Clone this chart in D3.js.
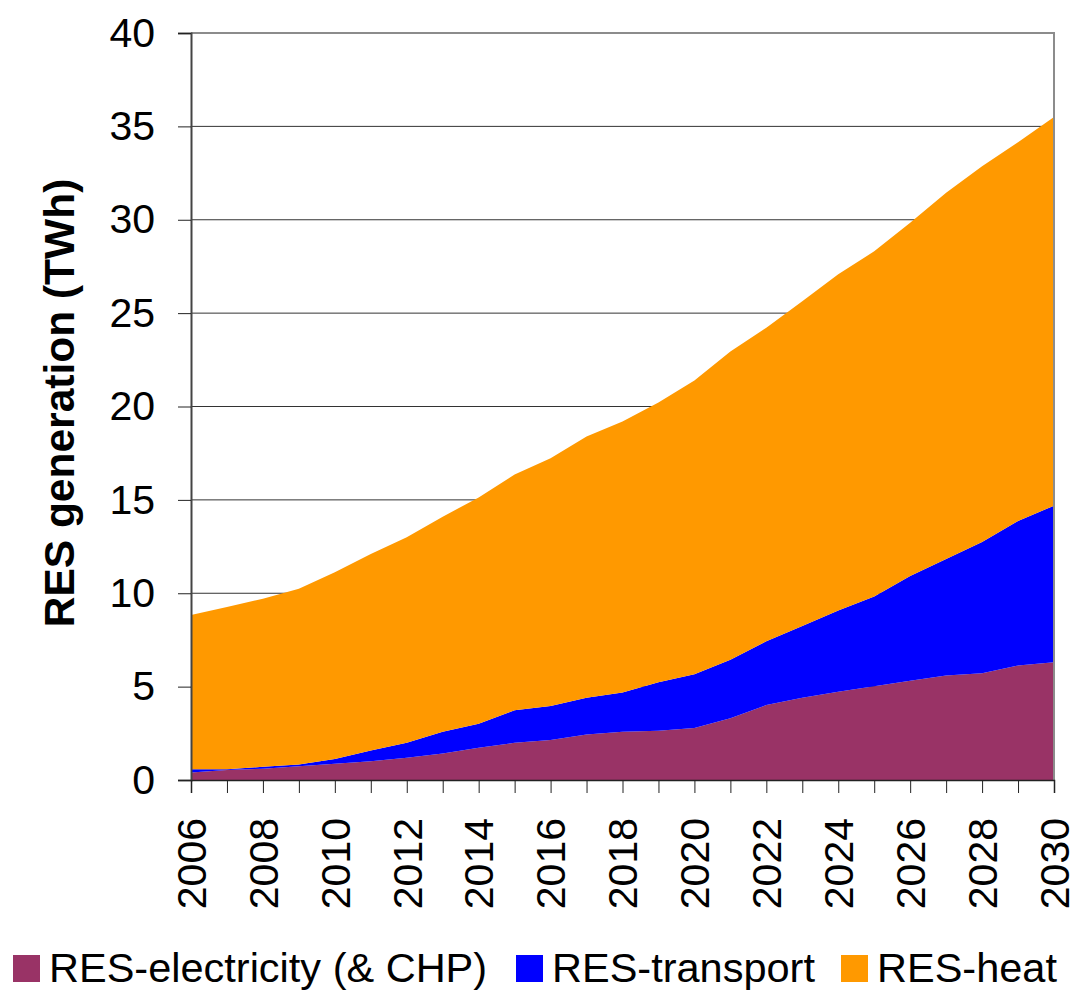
<!DOCTYPE html>
<html>
<head>
<meta charset="utf-8">
<script src="https://cdn.jsdelivr.net/npm/d3@7"></script>
<style>
  body { margin: 0; background: #fff; }
  svg { font-family: "Liberation Sans", Arial, sans-serif; }
</style>
</head>
<body>
<svg id="chart"></svg>
<script>
// values (TWh per year)
const years = d3.range(2006, 2031)
const electricity = [0.40, 0.54, 0.60, 0.74, 0.87, 1.01, 1.19, 1.42, 1.73, 1.99, 2.14, 2.44, 2.58, 2.64, 2.78, 3.30, 4.01, 4.41, 4.72, 5.02, 5.31, 5.59, 5.71, 6.13, 6.30]
const transport   = [0.17, 0.03, 0.11, 0.09, 0.26, 0.57, 0.80, 1.16, 1.28, 1.74, 1.82, 1.97, 2.10, 2.60, 2.88, 3.14, 3.42, 3.84, 4.36, 4.81, 5.61, 6.25, 7.03, 7.74, 8.39]
const heat        = [8.27, 8.70, 9.00, 9.41, 10.00, 10.52, 11.01, 11.52, 12.12, 12.63, 13.27, 13.99, 14.52, 14.97, 15.73, 16.51, 16.79, 17.39, 18.00, 18.48, 18.92, 19.60, 20.12, 20.28, 20.81]
const seriesNames = ['RES-electricity (& CHP)', 'RES-transport', 'RES-heat']
const yTicks = [0, 5, 10, 15, 20, 25, 30, 35, 40]

const width = 1074, height = 990
const margin = {top: 33, right: 20, bottom: 210, left: 191}

const svg = d3.select('#chart')
              .attr('width', width)
              .attr('height', height)

const x = d3.scaleLinear()
            .domain([2006, 2030])
            .range([margin.left, width - margin.right])
const y = d3.scaleLinear()
            .domain([0, 40])
            .range([height - margin.bottom, margin.top])

const color = d3.scaleOrdinal()
                .domain(seriesNames)
                .range(['#993366', '#0000ff', '#ff9900'])

const rows = years.map((yr, i) => ({
  year: yr,
  [seriesNames[0]]: electricity[i],
  [seriesNames[1]]: transport[i],
  [seriesNames[2]]: heat[i]
}))
const stacked = d3.stack().keys(seriesNames)(rows)

// grid lines
svg.append('g')
   .selectAll('line')
   .data(yTicks.slice(1))
   .join('line')
   .attr('x1', x(2006))
   .attr('x2', x(2030))
   .attr('y1', d => y(d))
   .attr('y2', d => y(d))
   .attr('stroke', '#333')
   .attr('stroke-width', 1)

// stacked areas
const area = d3.area()
               .x(d => x(d.data.year))
               .y0(d => y(d[0]))
               .y1(d => y(d[1]))

svg.append('g')
   .selectAll('path')
   .data(stacked)
   .join('path')
   .attr('fill', d => color(d.key))
   .attr('d', area)

// frame top and right
svg.append('path')
   .attr('d', `M${x(2006)},${y(40)}H${x(2030)}V${y(0)}`)
   .attr('fill', 'none')
   .attr('stroke', '#8c8c8c')
   .attr('stroke-width', 2)

// y axis
const yAxis = svg.append('g')
   .attr('transform', `translate(${x(2006)},0)`)
   .call(d3.axisLeft(y).tickValues(yTicks).tickSize(13).tickPadding(23))
yAxis.select('.domain').attr('stroke', '#444').attr('stroke-width', 2)
yAxis.selectAll('.tick line').attr('stroke', '#222')
yAxis.selectAll('text')
     .attr('font-size', 41)
     .attr('fill', '#000')
     .attr('font-family', '"Liberation Sans", Arial, sans-serif')

// x axis
const xAxis = svg.append('g')
   .attr('transform', `translate(0,${y(0)})`)
   .call(d3.axisBottom(x).tickValues(years).tickSize(13).tickFormat(''))
xAxis.select('.domain').attr('stroke', '#222').attr('stroke-width', 1.5)
xAxis.selectAll('.tick line').attr('stroke', '#222')

svg.append('g')
   .selectAll('text')
   .data(years.filter(d => d % 2 === 0))
   .join('text')
   .attr('transform', d => `translate(${x(d)},${y(0) + 38}) rotate(-90)`)
   .attr('text-anchor', 'end')
   .attr('dy', '0.36em')
   .attr('font-size', 41)
   .text(d => d)

// y title
svg.append('text')
   .attr('transform', `translate(74,403) rotate(-90)`)
   .attr('text-anchor', 'middle')
   .attr('font-size', 42.5)
   .attr('font-weight', 'bold')
   .text('RES generation (TWh)')

// legend
const legendX = [13, 516, 841]
const legend = svg.append('g')
   .selectAll('g')
   .data(seriesNames)
   .join('g')
   .attr('transform', (d, i) => `translate(${legendX[i]},955)`)
legend.append('rect')
      .attr('width', 27)
      .attr('height', 27)
      .attr('fill', d => color(d))
legend.append('text')
      .attr('x', 36)
      .attr('y', 27)
      .attr('font-size', 41.5)
      .text(d => d)
</script>
</body>
</html>
